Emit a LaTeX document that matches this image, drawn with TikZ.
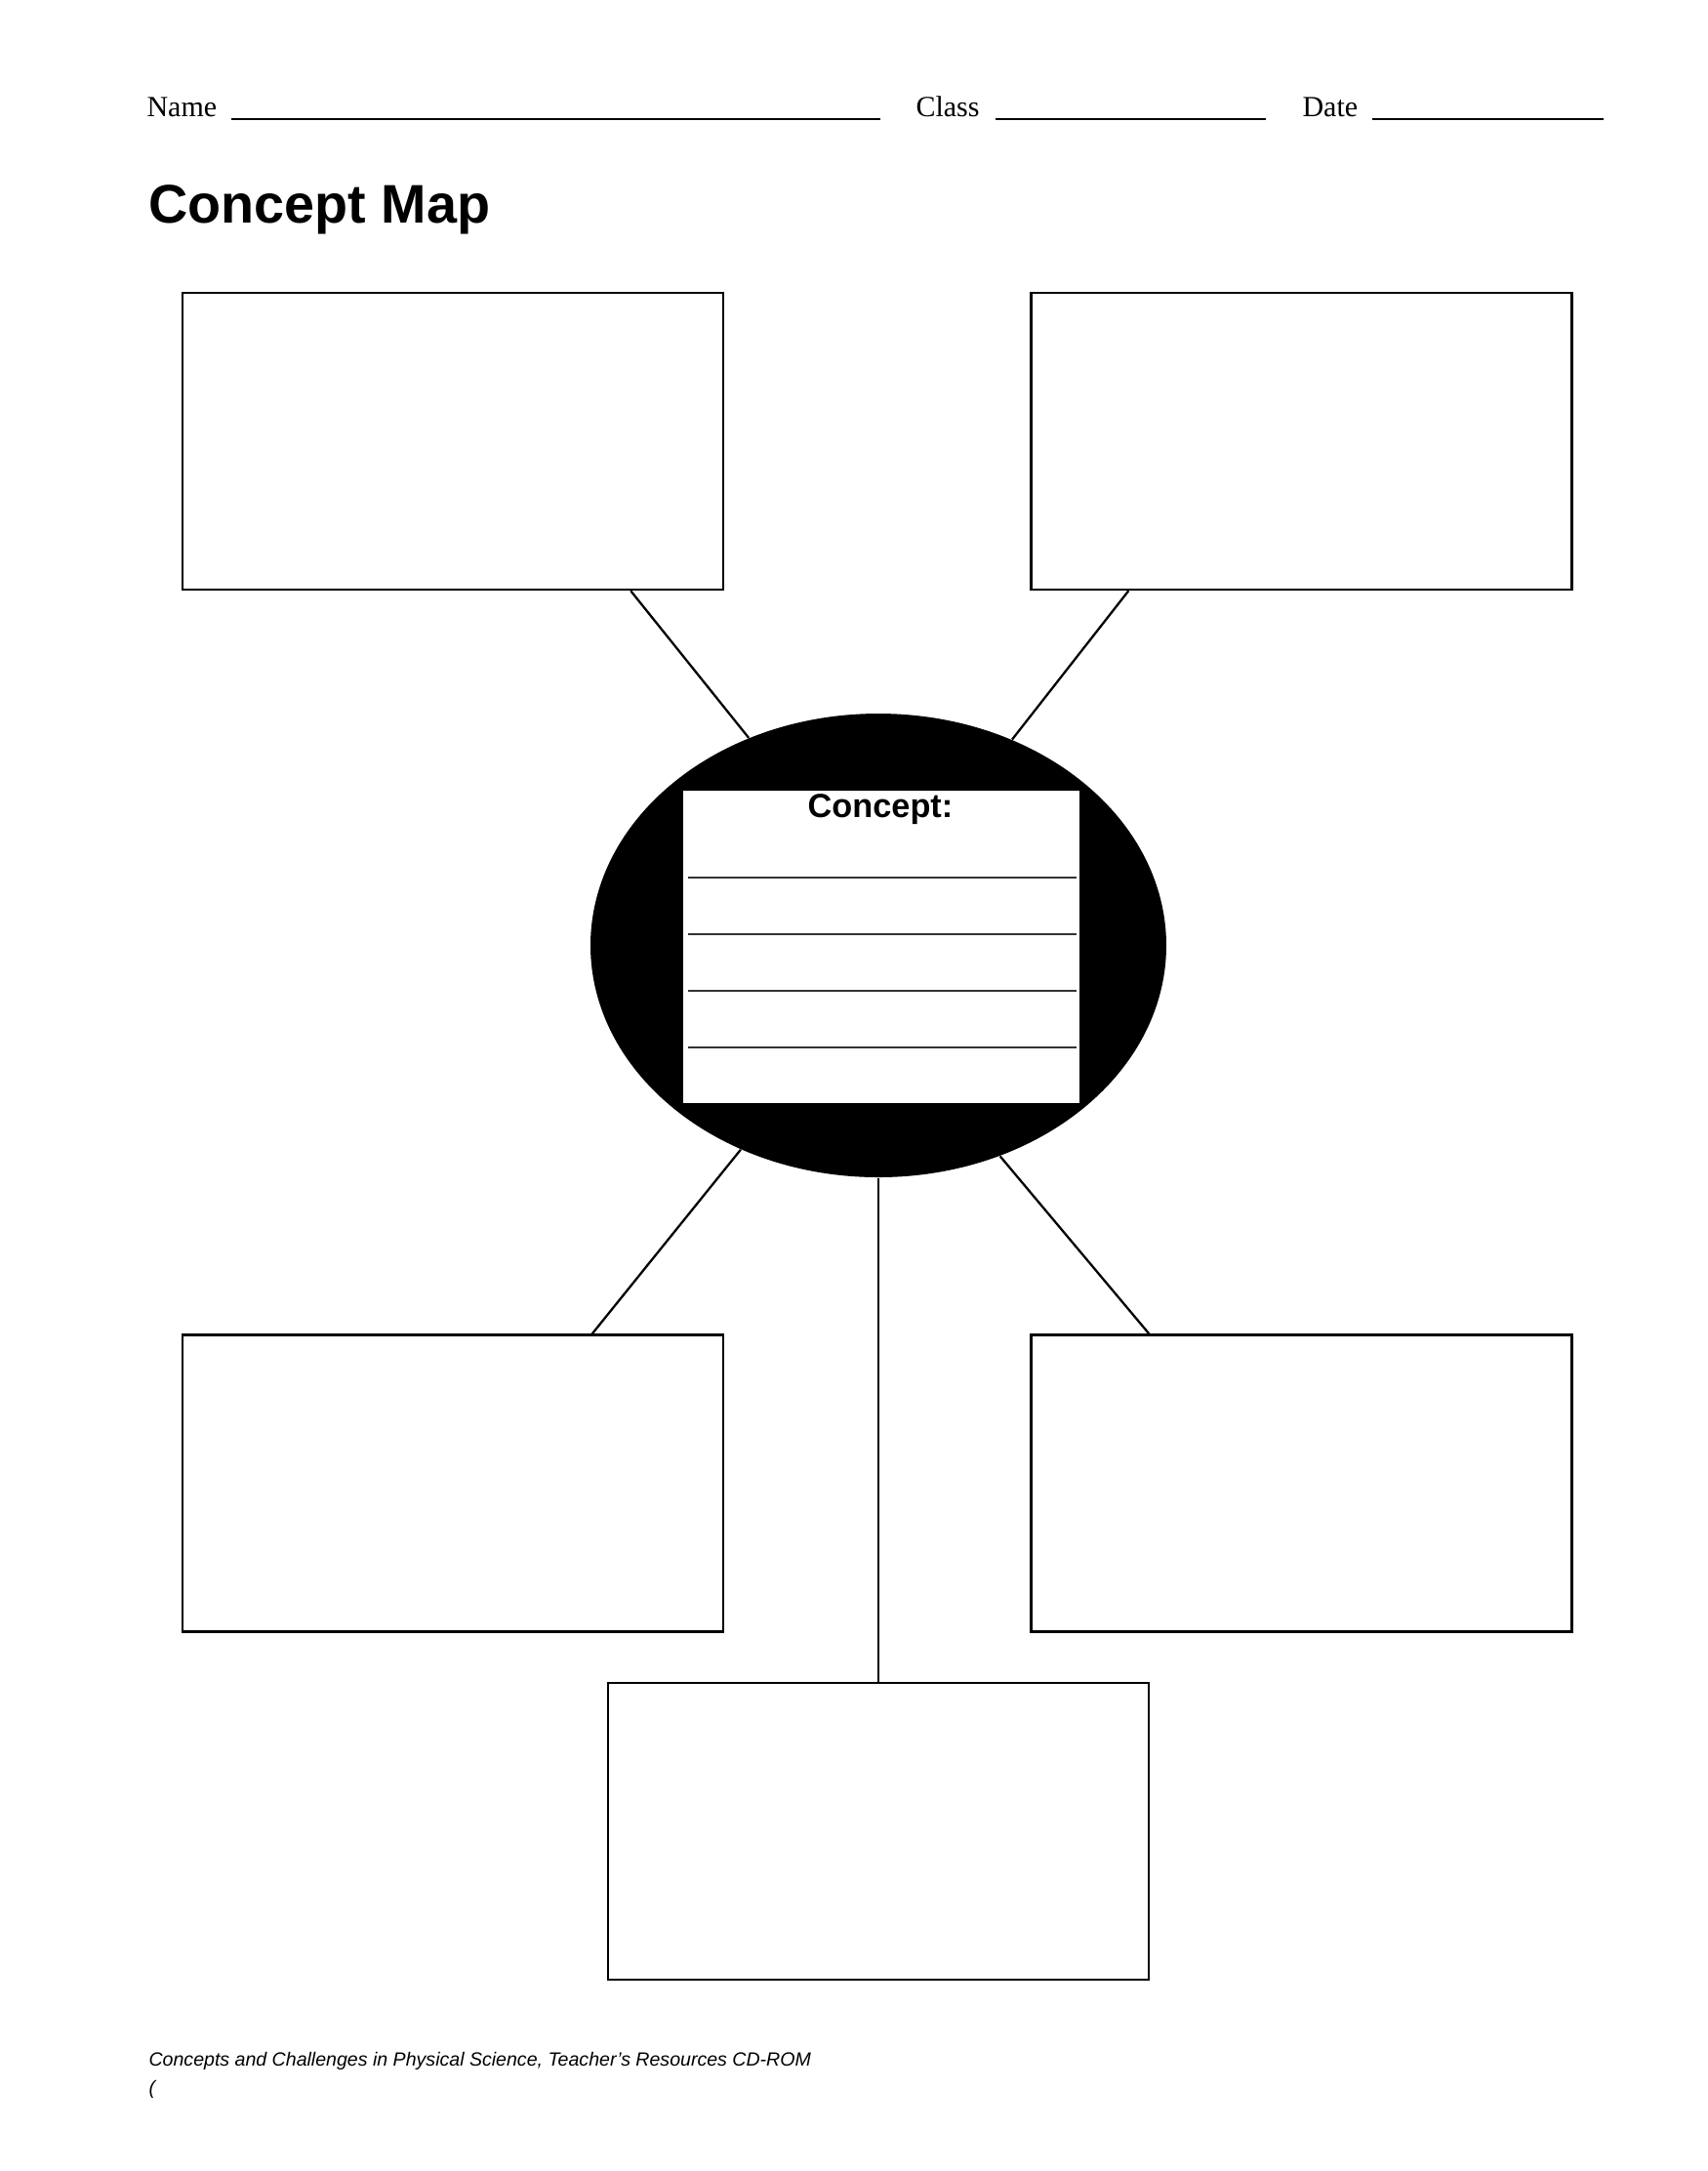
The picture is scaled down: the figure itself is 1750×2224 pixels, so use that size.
\documentclass[tikz,border=0pt]{standalone}
\usepackage{fontspec}
\setmainfont{Liberation Serif}
\setsansfont{Liberation Sans}
\usetikzlibrary{shapes.geometric}
\begin{document}
\begin{tikzpicture}[x=0.35pt, y=-0.35pt,
    box/.style={draw, line width=0.85pt, minimum width=193.9pt, minimum height=106.4pt, inner sep=0pt},
    link/.style={line width=0.8pt},
    rule/.style={line width=1pt},
    label/.style={anchor=base west, inner sep=0pt, font=\fontsize{10.5}{12}\selectfont}]
    \useasboundingbox (0,0) rectangle (1750,2224);

    \def\yh{122};
    \def\xl{464};
    \def\xr{1333.5};
    \def\yt{452};
    \def\yb{1519.5};

    % header
    \node[label] (name) at (150,119) {Name};
    \draw[rule] (237,\yh) -- (902,\yh);
    \node[label] (class) at (938,119) {Class};
    \draw[rule] (1020,\yh) -- (1297,\yh);
    \node[label] (date) at (1334,119) {Date};
    \draw[rule] (1406,\yh) -- (1643,\yh);

    \node[label, font=\sffamily\bfseries\fontsize{19.5}{22}\selectfont] (title) at (152,228) {Concept Map};

    % outer boxes
    \node[box] (tl) at (\xl, \yt) {};
    \node[box] (tr) at (\xr, \yt) {};
    \node[box] (bl) at (\xl, \yb) {};
    \node[box] (br) at (\xr, \yb) {};
    \node[box] (bc) at (900, 1876) {};

    % centre
    \node[ellipse, fill=black, minimum width=206.5pt, minimum height=166.25pt, inner sep=0pt] (hub) at (900,968.5) {};
    \node[fill=white, minimum width=141.9pt, minimum height=112pt, inner sep=0pt] (card) at (903,970) {};
    \node[anchor=base, inner sep=0pt, font=\sffamily\bfseries\fontsize{12}{14}\selectfont] (cname) at (902,837) {Concept:};
    \foreach \y in {899,957,1015,1073}
        \draw[line width=0.6pt, black!80] (705,\y) -- (1103,\y);

    % links
    \draw[link] ([xshift=-33.6pt]tl.south east) -- (hub.122);
    \draw[link] ([xshift=35.35pt]tr.south west) -- (hub.57.5);
    \draw[link] ([xshift=-47.4pt]bl.north east) -- (hub.236.7);
    \draw[link] ([xshift=42.7pt]br.north west) -- (hub.300.6);
    \draw[link] (hub.south) -- (bc.north);

    % footer
    \node[label, font=\sffamily\itshape\fontsize{6.85}{8}\selectfont] (credit) at (152,2116) {Concepts and Challenges in Physical Science, Teacher’s Resources CD-ROM};
    \node[label, font=\sffamily\itshape\fontsize{6.85}{8}\selectfont] (paren) at (152,2145) {(};
\end{tikzpicture}
\end{document}
